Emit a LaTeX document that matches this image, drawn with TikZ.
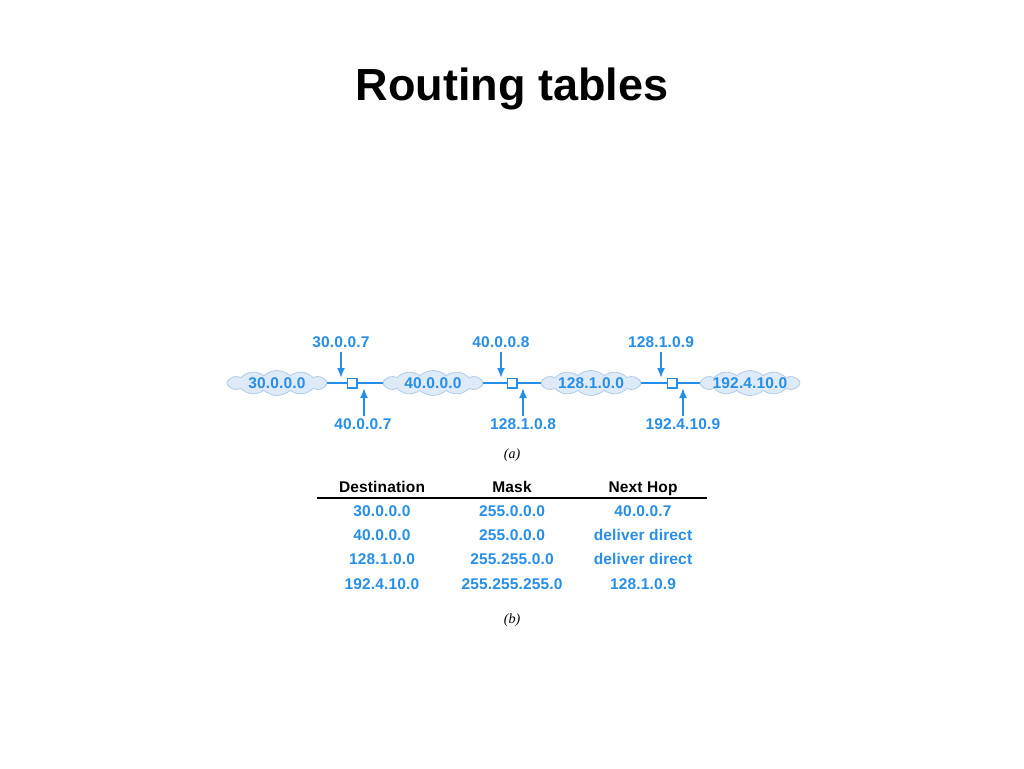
\documentclass[tikz,border=0pt]{standalone}
\usepackage{fontspec}
\setmainfont{Liberation Sans}
\newfontfamily\ipfont[LetterSpace=1]{Liberation Sans Bold}
\newfontfamily\capfont{Liberation Serif}
\usetikzlibrary{shapes.symbols,arrows.meta}
\definecolor{ipblue}{RGB}{38,142,230}
\definecolor{cloudfill}{RGB}{222,234,248}
\definecolor{clouddraw}{RGB}{176,202,232}
\tikzset{
  iptext/.style={text=ipblue,font=\ipfont\fontsize{15.5}{18}\selectfont,inner sep=0pt,text height=11pt,text depth=3pt,yshift=-1pt},
  hdtext/.style={text=black,font=\ipfont\fontsize{15.5}{18}\selectfont,inner sep=0pt,text height=11pt,text depth=3pt,yshift=-1pt},
  netcloud/.style={cloud,cloud puffs=12,cloud puff arc=85,aspect=4,draw=clouddraw,fill=cloudfill,line width=0.8pt,minimum width=100pt,minimum height=25pt,inner sep=0pt},
  router/.style={rectangle,draw=ipblue,fill=white,line width=1.5pt,minimum size=9.5pt,inner sep=0pt},
  netline/.style={draw=ipblue,line width=1.6pt},
  iparrow/.style={draw=ipblue,line width=1.8pt,-{Latex[length=10pt,width=8pt]}},
  captext/.style={font=\capfont\itshape\fontsize{14}{16}\selectfont,inner sep=0pt}
}
\begin{document}
\begin{tikzpicture}[x=1pt,y=-1pt]
\useasboundingbox (0,0) rectangle (1024,768);
\node[font=\bfseries\fontsize{45}{52}\selectfont] (title) at (512,89) {Routing tables};
% clouds
\node[netcloud] (c1) at (277,383) {};
\node[iptext] (c1t) at (c1) {30.0.0.0};
\node[netcloud] (c2) at (433,383) {};
\node[iptext] (c2t) at (c2) {40.0.0.0};
\node[netcloud] (c3) at (591,383) {};
\node[iptext] (c3t) at (c3) {128.1.0.0};
\node[netcloud] (c4) at (750,383) {};
\node[iptext] (c4t) at (c4) {192.4.10.0};
% routers
\node[router] (r1) at (352,383) {};
\node[router] (r2) at (512,383) {};
\node[router] (r3) at (672,383) {};
\draw[netline] (c1.east) -- (r1.west);
\draw[netline] (r1.east) -- (c2.west);
\draw[netline] (c2.east) -- (r2.west);
\draw[netline] (r2.east) -- (c3.west);
\draw[netline] (c3.east) -- (r3.west);
\draw[netline] (r3.east) -- (c4.west);
% address labels and arrows
\node[iptext] (u1) at (341,342) {30.0.0.7};
\node[iptext] (d1) at (363,424) {40.0.0.7};
\node[iptext] (u2) at (501,342) {40.0.0.8};
\node[iptext] (d2) at (523,424) {128.1.0.8};
\node[iptext] (u3) at (661,342) {128.1.0.9};
\node[iptext] (d3) at (683,424) {192.4.10.9};
\coordinate (u1e) at (341,378);
\coordinate (d1e) at (364,388);
\coordinate (u2e) at (501,378);
\coordinate (d2e) at (523,388);
\coordinate (u3e) at (661,378);
\coordinate (d3e) at (683,388);
\draw[iparrow] ([yshift=-2pt]u1.south -| u1e) -- (u1e);
\draw[iparrow] ([yshift=2pt]d1.north -| d1e) -- (d1e);
\draw[iparrow] ([yshift=-2pt]u2.south -| u2e) -- (u2e);
\draw[iparrow] ([yshift=2pt]d2.north -| d2e) -- (d2e);
\draw[iparrow] ([yshift=-2pt]u3.south -| u3e) -- (u3e);
\draw[iparrow] ([yshift=2pt]d3.north -| d3e) -- (d3e);
\node[captext] (capa) at (512,455) {(a)};
% table
\node[hdtext] (h1) at (382,487) {Destination};
\node[hdtext] (h2) at (512,487) {Mask};
\node[hdtext] (h3) at (643,487) {Next Hop};
\coordinate (rl) at (317,498);
\coordinate (rr) at (707,498);
\draw[black,line width=1.4pt] (rl) -- (rr);
\node[iptext] (t11) at (382,511) {30.0.0.0};
\node[iptext] (t12) at (512,511) {255.0.0.0};
\node[iptext] (t13) at (643,511) {40.0.0.7};
\node[iptext] (t21) at (382,535) {40.0.0.0};
\node[iptext] (t22) at (512,535) {255.0.0.0};
\node[iptext] (t23) at (643,535) {deliver direct};
\node[iptext] (t31) at (382,559) {128.1.0.0};
\node[iptext] (t32) at (512,559) {255.255.0.0};
\node[iptext] (t33) at (643,559) {deliver direct};
\node[iptext] (t41) at (382,584) {192.4.10.0};
\node[iptext] (t42) at (512,584) {255.255.255.0};
\node[iptext] (t43) at (643,584) {128.1.0.9};
\node[captext] (capb) at (512,620) {(b)};
\end{tikzpicture}
\end{document}
